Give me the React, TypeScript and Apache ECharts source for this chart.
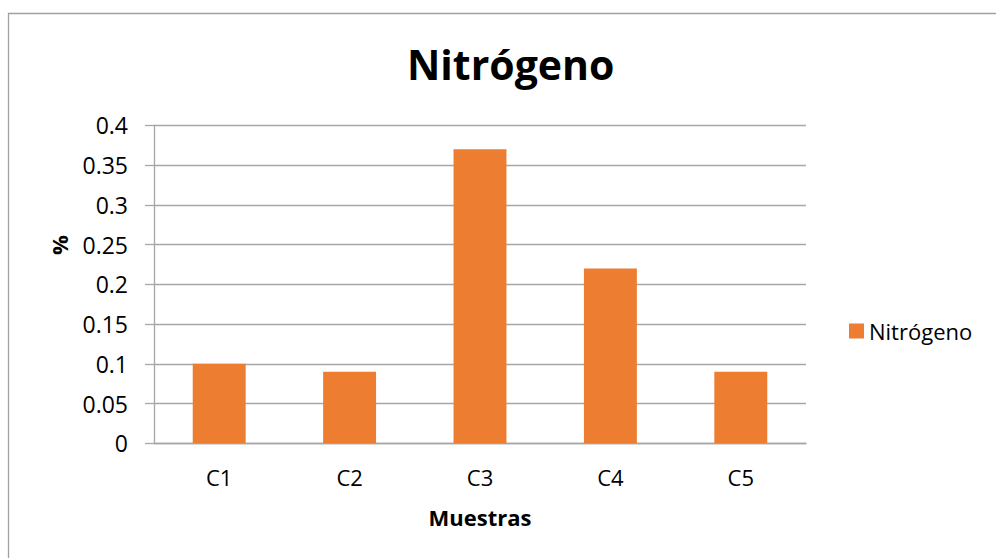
import React, { useEffect, useRef } from "react";
import * as echarts from "echarts";

// Nitrogen content (%) per sample
const categories = ["C1", "C2", "C3", "C4", "C5"];
const nitrogenValues = [0.1, 0.09, 0.37, 0.22, 0.09];
const seriesName = "Nitrógeno";
const titleText = "Nitrógeno";
const xAxisTitle = "Muestras";
const yAxisTitle = "%";

const FONT = "'Open Sans', 'Liberation Sans', sans-serif";
const GRID_GRAY = "#a6a6a6";
const ORANGE = "#ED7D31";

export default function App() {
  const ref = useRef<HTMLDivElement>(null);

  useEffect(() => {
    if (!ref.current) return;
    const chart = echarts.init(ref.current, undefined, { renderer: "svg" });
    chart.setOption({
      animation: false,
      backgroundColor: "#ffffff",
      textStyle: { fontFamily: FONT },
      title: {
        text: titleText,
        left: 407,
        top: 43,
        padding: 0,
        textStyle: { fontFamily: FONT, fontSize: 41, fontWeight: "bold", color: "#000000" },
      },
      legend: {
        data: [seriesName],
        left: 849,
        top: 320,
        padding: 0,
        icon: "rect",
        itemWidth: 15,
        itemHeight: 15,
        itemGap: 8,
        textStyle: { fontFamily: FONT, fontSize: 22, color: "#000000", padding: [0, 0, 0, 0] },
      },
      grid: { left: 154, right: 190, top: 125.3, bottom: 114.7, containLabel: false },
      xAxis: {
        type: "category",
        data: categories,
        name: xAxisTitle,
        nameLocation: "middle",
        nameGap: 63,
        nameTextStyle: { fontFamily: FONT, fontSize: 22, fontWeight: "bold", color: "#000000" },
        axisLine: { show: true, lineStyle: { color: GRID_GRAY, width: 1.3 } },
        axisTick: { show: false },
        axisLabel: { margin: 23, fontFamily: FONT, fontSize: 22, color: "#000000" },
      },
      yAxis: {
        type: "value",
        min: 0,
        max: 0.4,
        interval: 0.05,
        axisLine: { show: true, lineStyle: { color: GRID_GRAY, width: 1.3 } },
        axisTick: { show: true, inside: false, length: 9, lineStyle: { color: GRID_GRAY, width: 1.3 } },
        axisLabel: { margin: 26, fontFamily: FONT, fontSize: 23, color: "#000000" },
        splitLine: { show: true, lineStyle: { color: GRID_GRAY, width: 1.3 } },
      },
      graphic: [
        {
          type: "rect",
          shape: { x: 8.5, y: 13.5, width: 1200, height: 800 },
          style: { fill: "none", stroke: "#a0a0a0", lineWidth: 1.3 },
          silent: true,
        },
        {
          type: "text",
          x: 59,
          y: 245,
          rotation: Math.PI / 2,
          style: {
            text: yAxisTitle,
            fontFamily: FONT,
            fontSize: 22,
            fontWeight: "bold",
            fill: "#000000",
            align: "center",
            verticalAlign: "middle",
          },
        },
      ],
      series: [
        {
          name: seriesName,
          type: "bar",
          data: nitrogenValues,
          barWidth: "40.6%",
          itemStyle: { color: ORANGE },
        },
      ],
    });
    return () => chart.dispose();
  }, []);

  return (
    <div
      ref={ref}
      style={{ position: "fixed", left: 0, top: 0, width: 996, height: 558 }}
    />
  );
}
